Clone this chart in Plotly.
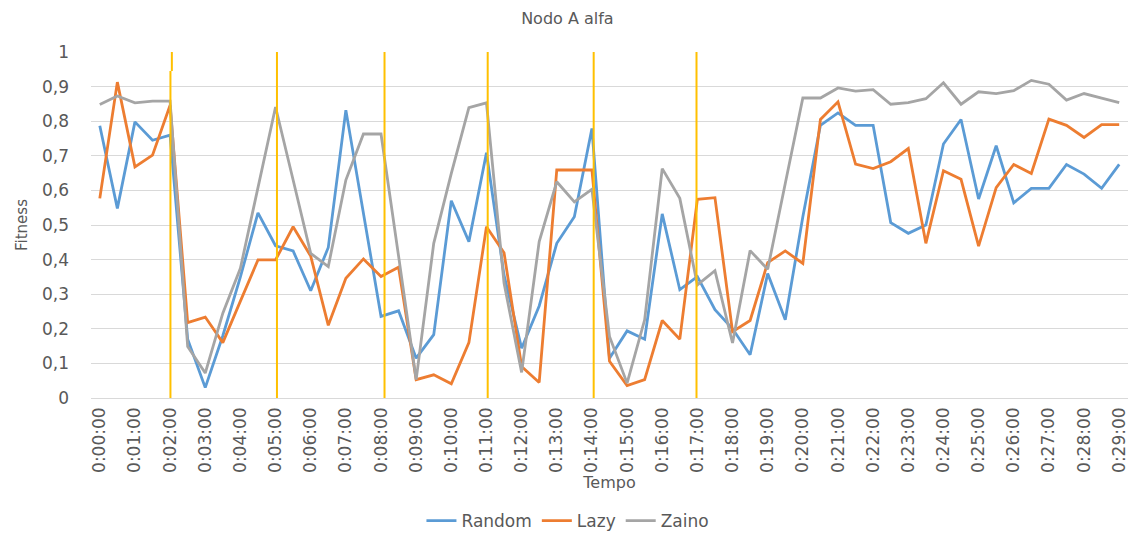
import plotly.graph_objects as go

# Sample times: every 30 seconds from 0:00:00 to 0:29:00
tempo = [f"0:{(30 * k) // 60:02d}:{(30 * k) % 60:02d}" for k in range(59)]
# Only whole minutes are labelled on the axis
tick_labels = [t for t in tempo if t.endswith(":00")]

random_fit = [0.787, 0.548, 0.798, 0.745, 0.760, 0.170, 0.030, 0.180, 0.350, 0.535,
              0.440, 0.425, 0.310, 0.435, 0.832, 0.530, 0.236, 0.252, 0.115, 0.183,
              0.570, 0.452, 0.709, 0.355, 0.144, 0.266, 0.447, 0.524, 0.779, 0.115,
              0.194, 0.170, 0.532, 0.313, 0.351, 0.255, 0.200, 0.125, 0.360, 0.226,
              0.524, 0.788, 0.824, 0.788, 0.788, 0.507, 0.476, 0.500, 0.734, 0.805,
              0.575, 0.729, 0.564, 0.606, 0.606, 0.675, 0.647, 0.606, 0.675]

lazy_fit = [0.577, 0.913, 0.668, 0.702, 0.846, 0.218, 0.234, 0.160, 0.280, 0.399,
            0.399, 0.495, 0.410, 0.210, 0.346, 0.402, 0.351, 0.378, 0.053, 0.067,
            0.041, 0.160, 0.495, 0.420, 0.091, 0.045, 0.659, 0.659, 0.659, 0.106,
            0.036, 0.053, 0.224, 0.170, 0.574, 0.579, 0.192, 0.224, 0.391, 0.425,
            0.389, 0.805, 0.856, 0.676, 0.663, 0.683, 0.721, 0.447, 0.657, 0.632,
            0.439, 0.608, 0.675, 0.649, 0.806, 0.788, 0.753, 0.790, 0.790]

zaino_fit = [0.848, 0.873, 0.853, 0.858, 0.858, 0.149, 0.072, 0.245, 0.375, 0.610,
             0.841, 0.630, 0.418, 0.380, 0.630, 0.763, 0.763, 0.410, 0.053, 0.447,
             0.649, 0.839, 0.853, 0.332, 0.074, 0.452, 0.625, 0.567, 0.603, 0.178,
             0.043, 0.226, 0.663, 0.577, 0.327, 0.368, 0.159, 0.426, 0.372, 0.620,
             0.867, 0.867, 0.896, 0.887, 0.891, 0.849, 0.854, 0.865, 0.911, 0.849,
             0.885, 0.880, 0.888, 0.918, 0.907, 0.861, 0.880, 0.867, 0.854]

# Event markers (position in sample index units along the time axis)
event_positions = [4.02, 10.08, 16.2, 22.07, 28.1, 33.95]

y_ticks = [0, 0.1, 0.2, 0.3, 0.4, 0.5, 0.6, 0.7, 0.8, 0.9, 1]
y_tick_text = ["0", "0,1", "0,2", "0,3", "0,4", "0,5", "0,6", "0,7", "0,8", "0,9", "1"]

FONT = "DejaVu Sans"
TXT = "#595959"

series = [
    ("Random", random_fit, "#5B9BD5"),
    ("Lazy", lazy_fit, "#ED7D31"),
    ("Zaino", zaino_fit, "#A5A5A5"),
]

fig = go.Figure()
for name, vals, col in series:
    fig.add_trace(go.Scatter(x=tempo, y=vals, mode="lines", name=name,
                             line=dict(color=col, width=2.8)))

shapes = []
for i, xp in enumerate(event_positions):
    if i == 0:
        # first marker is drawn in two slightly offset pieces
        shapes.append(dict(type="line", xref="x", yref="y", x0=xp, x1=xp, y0=-0.006, y1=0.945,
                           line=dict(color="#FFC000", width=2)))
        shapes.append(dict(type="line", xref="x", yref="y", x0=xp + 0.08, x1=xp + 0.08,
                           y0=0.945, y1=1.0, line=dict(color="#FFC000", width=2)))
    else:
        shapes.append(dict(type="line", xref="x", yref="y", x0=xp, x1=xp, y0=-0.006, y1=1.0,
                           line=dict(color="#FFC000", width=2)))

fig.update_layout(
    width=1128, height=533,
    margin=dict(l=91, r=0, t=52, b=135),
    paper_bgcolor="white", plot_bgcolor="white",
    font=dict(family=FONT, color=TXT, size=16),
    title=dict(text="Nodo A alfa", x=0.503, xref="container", xanchor="center",
               y=1 - 18 / 533, yref="container", yanchor="middle",
               font=dict(family=FONT, size=16, color=TXT)),
    shapes=shapes,
    showlegend=True,
    legend=dict(orientation="h", xref="container", yref="container",
                x=0.5035, xanchor="center", y=1 - 521 / 533, yanchor="middle",
                font=dict(family=FONT, size=17, color=TXT), itemwidth=30),
    xaxis=dict(
        type="category", categoryorder="array", categoryarray=tempo,
        range=[-0.5, 58.5],
        tickmode="array", tickvals=tick_labels, ticktext=tick_labels,
        tickangle=-90, tickfont=dict(family=FONT, size=17, color=TXT),
        ticklabelstandoff=5,
        showgrid=False, showline=False, zeroline=False, ticks="",
        title=dict(text="Tempo", font=dict(family=FONT, size=16, color=TXT), standoff=4),
    ),
    yaxis=dict(
        range=[0, 1], tickmode="array", tickvals=y_ticks, ticktext=y_tick_text,
        tickfont=dict(family=FONT, size=17, color=TXT),
        ticklabelstandoff=21,
        showgrid=True, gridcolor="#D9D9D9", gridwidth=1,
        zeroline=True, zerolinecolor="#D9D9D9", zerolinewidth=1,
        showline=False, ticks="",
        title=dict(text="Fitness", font=dict(family=FONT, size=15, color=TXT), standoff=10),
    ),
)

fig.write_html("out.html")
